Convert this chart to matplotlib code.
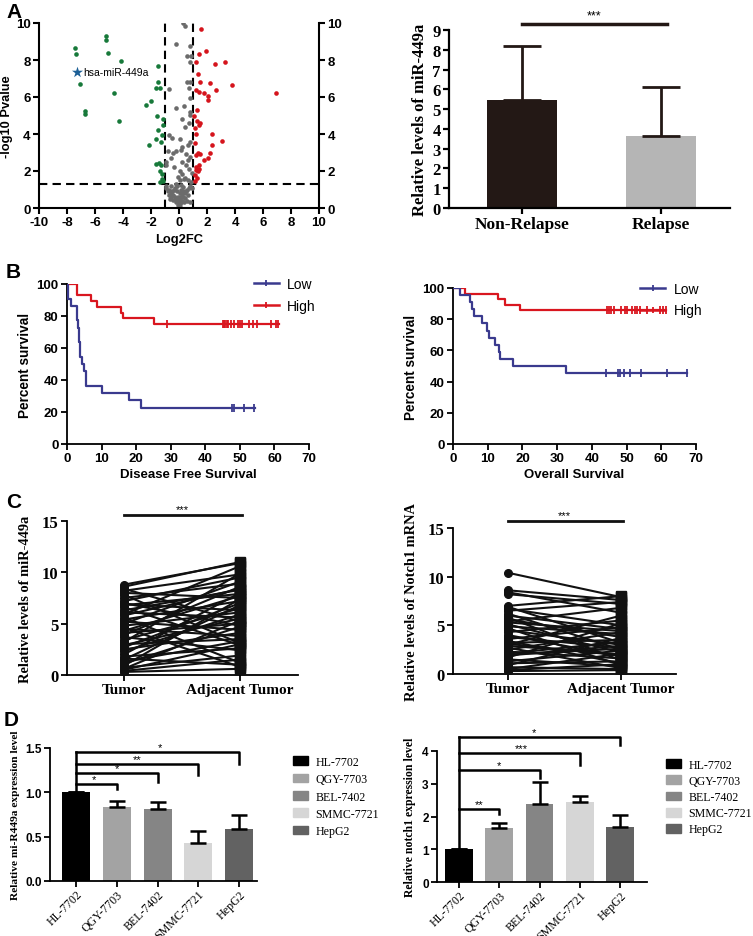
import matplotlib
matplotlib.use("Agg")
import matplotlib.pyplot as plt
from matplotlib.lines import Line2D
from matplotlib.patches import Patch

plt.rcParams["axes.unicode_minus"] = False

W, H = 753, 937
SANS = "Liberation Sans"
SERIF = "Liberation Serif"

# ── Panel A: volcano ──────────────────────────────────────────────────────────
down_fc = [-7.45, -7.38, -7.1, -6.71, -6.69, -5.19, -5.19, -5.05, -4.67, -4.14, -4.31,
           -2.38, -1.98, -2.14, -1.67, -1.33, -1.48, -1.48, -1.55, -1.48, -1.62, -1.26,
           -1.21, -1.14, -1.14, -1.62, -1.43, -1.29, -1.33, -1.19, -1.24, -1.14, -1.38]
down_p = [8.63, 8.31, 6.71, 5.27, 5.09, 9.28, 9.1, 8.36, 6.22, 7.97, 4.71,
          5.58, 5.77, 3.42, 6.47, 6.47, 6.79, 7.66, 5.0, 4.19, 3.74, 3.56,
          3.96, 4.82, 4.5, 2.36, 2.43, 2.3, 1.98, 1.85, 1.55, 1.44, 1.4]
up_fc = [1.57, 1.9, 1.4, 1.19, 1.38, 1.48, 2.24, 3.26, 2.57, 3.81, 2.62, 1.19, 1.43, 1.81,
         2.07, 2.05, 6.95, 1.29, 1.07, 1.29, 1.48, 1.4, 1.14, 1.24, 2.33, 3.1, 2.38, 1.14,
         1.36, 1.52, 2.24, 2.1, 1.81, 1.24, 1.43, 1.24, 1.19, 1.38, 1.12, 1.29, 1.12, 1.43]
up_p = [9.67, 8.5, 8.33, 7.88, 7.23, 6.83, 6.76, 7.91, 7.77, 6.65, 6.38, 6.37, 6.26, 6.22,
        6.08, 5.86, 6.22, 5.31, 4.96, 4.68, 4.6, 4.46, 4.32, 4.01, 4.01, 3.6, 3.42, 3.49,
        2.99, 2.9, 2.99, 2.7, 2.57, 2.84, 2.34, 2.21, 2.03, 1.98, 1.76, 1.62, 1.44, 2.12]
ns_fc = [0.29, 0.43, -0.24, 0.81, 0.57, 0.88, 0.76, 0.6, 0.81, 0.71, -0.71, 0.76, -0.21,
         0.33, 0.24, 0.79, 0.81, 0.71, 0.43, -0.71, -0.48, 0.05, 0.81, 0.67, 0.24, -0.79,
         -0.43, -0.19, 0.14, 0.5, 0.81, -0.9, -0.95, 0.24, 0.5, 0.74, 0.05, 0.24, 0.33,
         0.05, 0.62, 0.88, -0.6, -0.35, 0.62, 0.9, -0.1, 0.4,
         -0.9, -0.8, -0.7, -0.6, -0.5, -0.4, -0.3, -0.2, -0.1, 0.0, 0.1, 0.2, 0.3, 0.4,
         0.5, 0.6, 0.7, 0.8, 0.9, -0.95, -0.6, -0.3, -0.15, 0.05, 0.15, 0.25, -0.45,
         -0.25, -0.05, 0.05, 0.12, 0.35, 0.45, -0.55, -0.75, 0.65, 0.05, -0.1, 0.2, -0.35,
         -0.05, 0.1, 0.0, -0.15, 0.3, 0.15, -0.2, 0.55, 0.75, -0.65]
ns_p = [10.0, 9.86, 8.85, 8.78, 8.24, 8.24, 7.88, 6.8, 6.8, 6.47, 6.44, 5.94, 5.4,
        5.5, 4.82, 5.18, 5.04, 4.57, 4.39, 3.92, 3.78, 3.74, 3.56, 3.38, 3.29, 3.09,
        2.99, 3.06, 3.11, 2.91, 2.75, 2.48, 2.3, 2.48, 2.3, 2.12, 2.01, 1.85, 1.58,
        1.49, 1.49, 1.4, 2.7, 2.2, 2.6, 1.9, 1.7, 1.6,
        1.1, 0.9, 1.0, 0.8, 0.9, 0.7, 0.6, 0.5, 0.3, 0.1, 0.2, 0.4, 0.6, 0.8,
        0.9, 1.0, 1.1, 1.2, 1.1, 1.2, 1.2, 1.1, 0.9, 0.8, 1.0, 1.15, 0.45,
        0.3, 0.15, 0.05, 0.35, 0.3, 0.55, 0.6, 0.7, 0.7, 0.5, 0.6, 0.75, 0.95,
        0.4, 0.6, 0.25, 1.2, 0.9, 1.25, 1.3, 0.4, 0.35, 0.5]
star_fc, star_p = -7.26, 7.34

relapse_groups = ["Non-Relapse", "Relapse"]
relapse_mean = [5.45, 3.65]
relapse_sd = [2.75, 2.45]

# ── Panel B: Kaplan-Meier ─────────────────────────────────────────────────────
dfs_low_t = [0, 0.3, 1.2, 3.0, 3.3, 3.5, 3.6, 3.7, 3.8, 4.3, 5.0, 5.4, 5.6, 10.1, 17.8, 21.3, 54.3]
dfs_low_s = [100, 90.9, 86.4, 77.3, 72.7, 68.2, 63.6, 59.1, 54.5, 50.0, 45.5, 40.9, 36.4, 31.8, 27.3, 22.7, 22.7]
dfs_low_cens = [47.8, 48.3, 51.2, 54.2]
dfs_high_t = [0, 3.0, 6.9, 8.8, 15.6, 16.1, 25.2, 61.3]
dfs_high_s = [100, 92.9, 89.3, 85.7, 82.1, 78.6, 75.0, 75.0]
dfs_high_cens = [29.0, 45.0, 45.3, 45.8, 46.2, 46.7, 47.4, 48.2, 49.4, 50.1, 50.5,
                 52.6, 53.8, 55.0, 59.0, 60.5, 61.0]
os_low_t = [0, 1.9, 5.0, 5.5, 6.0, 8.4, 9.8, 10.3, 12.0, 13.3, 13.6, 17.4, 32.6, 67.3]
os_low_s = [100, 95.5, 90.9, 86.4, 81.8, 77.3, 72.7, 68.2, 63.6, 59.1, 54.5, 50.0, 45.5, 45.5]
os_low_cens = [44.0, 47.6, 48.2, 49.2, 51.0, 54.3, 61.6, 67.3]
os_high_t = [0, 3.6, 13.0, 15.0, 19.2, 61.5]
os_high_s = [100, 96.4, 92.9, 89.3, 85.7, 85.7]
os_high_cens = [44.5, 45.0, 45.5, 46.3, 48.5, 49.5, 50.0, 51.5, 52.5, 53.0, 54.0,
                56.0, 59.5, 60.5, 61.3]

# ── Panel C: paired tumour / adjacent ─────────────────────────────────────────
pair_labels = ["Tumor", "Adjacent Tumor"]
mir_tumor = [8.8, 8.6, 8.4, 8.2, 8.0, 7.8, 7.5, 7.2, 7.0, 6.8, 6.6, 6.3, 6.1, 5.9, 5.6,
             5.4, 5.2, 5.0, 4.8, 4.6, 4.3, 4.1, 3.9, 3.7, 3.4, 3.2, 3.0, 2.7, 2.5, 2.3,
             2.0, 1.8, 1.5, 1.3, 1.1, 0.9, 0.7, 0.6, 0.5, 0.4, 0.3, 6.9, 5.8, 4.5, 2.9, 1.6]
mir_adjacent = [10.9, 11.0, 5.2, 9.8, 7.5, 3.1, 8.9, 9.5, 4.8, 7.9, 2.9, 8.3, 5.6, 10.6, 1.2,
                7.2, 4.4, 9.1, 6.1, 0.8, 7.7, 5.0, 8.6, 2.4, 6.5, 9.9, 3.5, 7.0, 4.1, 5.9,
                8.0, 2.6, 6.8, 3.3, 4.7, 7.4, 1.9, 5.3, 3.0, 1.5, 0.6, 6.3, 8.4, 3.8, 5.5, 1.0]
notch_tumor = [10.4, 8.6, 8.4, 8.2, 7.0, 6.9, 6.7, 6.5, 6.2, 6.0, 5.8, 5.6, 5.4, 5.1, 4.9,
               4.7, 4.5, 4.3, 4.0, 3.8, 3.6, 3.4, 3.2, 3.0, 2.9, 2.7, 2.5, 2.3, 2.1, 1.9,
               1.7, 1.5, 1.3, 1.1, 0.9, 0.7, 0.5, 0.4, 0.3, 5.3, 3.1, 2.0]
notch_adjacent = [7.9, 7.6, 6.3, 7.2, 8.0, 3.2, 5.0, 7.4, 2.5, 4.6, 1.4, 3.8, 6.8, 2.2, 4.1,
                  0.9, 3.0, 5.5, 1.8, 2.7, 4.8, 1.1, 3.5, 6.0, 2.0, 0.6, 4.3, 1.6, 3.3, 2.9,
                  5.2, 0.8, 2.4, 1.3, 3.7, 0.5, 2.1, 1.0, 0.4, 4.4, 1.9, 2.6]

# ── Panel D: cell lines ───────────────────────────────────────────────────────
cell_lines = ["HL-7702", "QGY-7703", "BEL-7402", "SMMC-7721", "HepG2"]
cell_colors = ["#000000", "#a3a3a3", "#858585", "#d6d6d6", "#626262"]
mir_cells = [1.0, 0.84, 0.81, 0.43, 0.59]
mir_cells_err = [0.0, 0.06, 0.08, 0.13, 0.16]
mir_sig = ["*", "*", "**", "*"]
mir_bracket_y = [1.09, 1.22, 1.32, 1.45]
mir_drop_y = [1.04, 1.12, 1.2, 1.32]
notch_cells = [1.0, 1.65, 2.37, 2.43, 1.69]
notch_cells_err = [0.0, 0.15, 0.68, 0.2, 0.35]
notch_sig = ["**", "*", "***", "*"]
notch_bracket_y = [2.22, 3.42, 3.95, 4.44]
notch_drop_y = [2.09, 3.19, 3.56, 4.17]


def rect(x0, y0, x1, y1):
    return [x0 / W, 1 - y1 / H, (x1 - x0) / W, (y1 - y0) / H]


def style_axes(ax, family, size, lw=1.5, weight="bold"):
    for s in ["top", "right"]:
        ax.spines[s].set_visible(False)
    for s in ["left", "bottom"]:
        ax.spines[s].set_linewidth(lw)
    ax.tick_params(width=lw, length=4, direction="out", pad=2)
    for lab in ax.get_xticklabels() + ax.get_yticklabels():
        lab.set_fontfamily(family)
        lab.set_fontweight(weight)
        lab.set_fontsize(size)


fig = plt.figure(figsize=(W / 100, H / 100), dpi=100)

# Panel labels
for letter, (px, py) in zip("ABCD", [(6, 12), (6, 272), (6, 503), (4, 720)]):
    fig.text(px / W, 1 - py / H, letter, fontfamily=SANS, fontweight="bold",
             fontsize=15, va="center", ha="left")

# ── A left: volcano
ax = fig.add_axes(rect(39, 24, 319, 209))
ax.scatter(ns_fc, ns_p, s=11, color="#6b6b6b", linewidths=0, zorder=2)
ax.scatter(down_fc, down_p, s=11, color="#17793a", linewidths=0, zorder=2)
ax.scatter(up_fc, up_p, s=11, color="#d5141c", linewidths=0, zorder=2)
ax.scatter([star_fc], [star_p], marker="*", s=70, color="#1c5f96", linewidths=0, zorder=3)
ax.text(star_fc + 0.45, star_p, "hsa-miR-449a", fontfamily=SANS, fontsize=7.5,
        va="center", ha="left")
ax.axvline(-1, color="black", ls=(0, (4, 2.5)), lw=1.5, zorder=1)
ax.axvline(1, color="black", ls=(0, (4, 2.5)), lw=1.5, zorder=1)
ax.axhline(1.3, color="black", ls=(0, (4, 2.5)), lw=1.5, zorder=1)
ax.set_xlim(-10, 10)
ax.set_ylim(0, 10)
ax.set_xticks(range(-10, 11, 2))
ax.set_yticks(range(0, 11, 2))
ax.tick_params(right=True, labelright=True)
style_axes(ax, SANS, 9.5)
ax.spines["right"].set_visible(True)
ax.spines["right"].set_linewidth(1.5)
ax.set_xlabel("Log2FC", fontfamily=SANS, fontweight="bold", fontsize=9.3, labelpad=3)
ax.set_ylabel("-log10 Pvalue", fontfamily=SANS, fontweight="bold", fontsize=9.3, labelpad=2)

# ── A right: relapse bar chart
ax = fig.add_axes(rect(449, 31, 730, 209))
xs = [0, 1]
ax.bar(xs, relapse_mean, width=0.51, color=["#231815", "#b5b5b5"], zorder=2)
ax.errorbar(xs, relapse_mean, yerr=[[0, 0], relapse_sd], fmt="none", ecolor="#231815",
            elinewidth=2, capsize=14, capthick=2, zorder=3)
ax.plot([0, 1.04], [9.3, 9.3], color="#231815", lw=2.5, clip_on=False)
ax.text(0.52, 9.45, "***", ha="center", va="bottom", fontsize=9, fontfamily=SANS)
ax.set_xlim(-0.525, 1.496)
ax.set_ylim(0, 9)
ax.set_yticks(range(0, 10))
ax.set_xticks(xs)
ax.set_xticklabels(relapse_groups)
style_axes(ax, SERIF, 12.5, lw=1.6)
for lab in ax.get_yticklabels():
    lab.set_fontsize(12)
ax.set_ylabel("Relative levels of miR-449a", fontfamily=SERIF, fontweight="bold",
              fontsize=12, labelpad=3)


# ── B: Kaplan-Meier
def km(ax, lt, ls, lc, ht, hs, hc, xlabel):
    blue, red = "#3a3a8e", "#d9161f"
    ax.step(lt, ls, where="post", color=blue, lw=1.6, zorder=3)
    ax.step(ht, hs, where="post", color=red, lw=1.6, zorder=2)
    ax.plot(lc, [ls[-1]] * len(lc), ls="none", marker="|", ms=6, mew=1.3, color=blue)
    ax.plot(hc, [hs[-1]] * len(hc), ls="none", marker="|", ms=6, mew=1.3, color=red)
    ax.set_xlim(0, 70)
    ax.set_ylim(0, 100)
    ax.set_xticks(range(0, 71, 10))
    ax.set_yticks(range(0, 101, 20))
    style_axes(ax, SANS, 9.5, lw=1.3)
    ax.set_xlabel(xlabel, fontfamily=SANS, fontweight="bold", fontsize=9.5, labelpad=3)
    ax.set_ylabel("Percent survival", fontfamily=SANS, fontweight="bold", fontsize=9.8,
                  labelpad=3)
    handles = [Line2D([], [], color=blue, lw=1.8, marker="|", ms=5, mew=1.3),
               Line2D([], [], color=red, lw=1.8, marker="|", ms=5, mew=1.3)]
    ax.legend(handles, ["Low", "High"], loc="upper left", bbox_to_anchor=(0.72, 1.12),
              frameon=False, handlelength=1.8, labelspacing=0.55, handletextpad=0.6,
              prop={"family": SANS, "size": 10})


ax = fig.add_axes(rect(67, 285, 309, 445))
km(ax, dfs_low_t, dfs_low_s, dfs_low_cens, dfs_high_t, dfs_high_s, dfs_high_cens,
   "Disease Free Survival")
ax = fig.add_axes(rect(453, 289, 696, 445))
km(ax, os_low_t, os_low_s, os_low_cens, os_high_t, os_high_s, os_high_cens,
   "Overall Survival")


# ── C: paired plots
def paired(ax, tumor, adjacent, ylabel, xlim, sig_y):
    for a, b in zip(tumor, adjacent):
        ax.plot([0, 1], [a, b], color="#111111", lw=1.5, zorder=2)
    ax.plot([0] * len(tumor), tumor, ls="none", marker="o", ms=5.5, color="#111111", zorder=3)
    ax.plot([1] * len(adjacent), adjacent, ls="none", marker="s", ms=6.5, color="#111111",
            zorder=3)
    ax.plot([0, 1.02], [sig_y, sig_y], color="#111111", lw=2, clip_on=False)
    ax.text(0.5, sig_y + 0.1, "***", ha="center", va="bottom", fontsize=8, fontfamily=SANS)
    ax.set_xlim(*xlim)
    ax.set_ylim(0, 15)
    ax.set_yticks([0, 5, 10, 15])
    ax.set_xticks([0, 1])
    ax.set_xticklabels(pair_labels)
    style_axes(ax, SERIF, 11, lw=1.3)
    for lab in ax.get_yticklabels():
        lab.set_fontsize(12)
    ax.set_ylabel(ylabel, fontfamily=SERIF, fontweight="bold", fontsize=10.4, labelpad=7)


ax = fig.add_axes(rect(67, 522, 298, 676))
paired(ax, mir_tumor, mir_adjacent, "Relative levels of miR-449a", (-0.49, 1.5), 15.6)
ax = fig.add_axes(rect(453, 529, 676, 675))
paired(ax, notch_tumor, notch_adjacent, "Relative levels of Notch1 mRNA", (-0.487, 1.487), 15.7)


# ── D: cell lines
def cells(ax, vals, errs, sig, by, dy, ylim, yticks, yticklabels, ylabel, xlim, sig_dx, ylsize):
    xs = list(range(len(vals)))
    ax.bar(xs, vals, width=0.69, color=cell_colors, zorder=2)
    ax.errorbar(xs, vals, yerr=[[0] * len(errs), errs], fmt="none", ecolor="black",
                elinewidth=1.8, capsize=6, capthick=1.8, zorder=3)
    ax.plot([0, 0], [vals[0], max(by)], color="black", lw=1.8, clip_on=False, zorder=4)
    for i, (s, y, d) in enumerate(zip(sig, by, dy)):
        ax.plot([0, i + 1, i + 1], [y, y, d], color="black", lw=1.8, clip_on=False, zorder=4)
        ax.text(sig_dx[i], y, s, ha="center", va="bottom", fontsize=8, fontfamily=SANS)
    ax.set_xlim(*xlim)
    ax.set_ylim(*ylim)
    ax.set_yticks(yticks)
    ax.set_yticklabels(yticklabels)
    ax.set_xticks(xs)
    ax.set_xticklabels(cell_lines, rotation=45, ha="right", rotation_mode="anchor")
    style_axes(ax, SANS, 8.5, lw=1.3)
    ax.tick_params(axis="x", pad=1)
    for lab in ax.get_xticklabels():
        lab.set_fontfamily(SERIF)
        lab.set_fontweight("normal")
        lab.set_fontsize(8.6)
    ax.set_ylabel(ylabel, fontfamily=SERIF, fontweight="bold", fontsize=ylsize, labelpad=4)


ax = fig.add_axes(rect(50, 749, 257, 882))
cells(ax, mir_cells, mir_cells_err, mir_sig, mir_bracket_y, mir_drop_y, (0, 1.5),
      [0, 0.5, 1.0, 1.5], ["0.0", "0.5", "1.0", "1.5"],
      "Relative mi-R449a expression level", (-0.64, 4.44), [0.45, 1.0, 1.5, 2.05], 8.2)
ax = fig.add_axes(rect(437, 752, 647, 883))
cells(ax, notch_cells, notch_cells_err, notch_sig, notch_bracket_y, notch_drop_y, (0, 4),
      [0, 1, 2, 3, 4], ["0", "1", "2", "3", "4"],
      "Relative notch1 expression level", (-0.55, 4.67), [0.5, 1.0, 1.55, 1.85], 8.5)

handles = [Patch(color=c) for c in cell_colors]
for lx, ly, sp in [(288, 752, 0.45), (661, 755, 0.35)]:
    fig.legend(handles, cell_lines, loc="upper left", bbox_to_anchor=(lx / W, 1 - ly / H),
               frameon=False, handlelength=1.3, handleheight=0.75, labelspacing=sp,
               handletextpad=0.6, borderaxespad=0, prop={"family": SERIF, "size": 8.6})

fig.savefig("out.png", dpi=100)
